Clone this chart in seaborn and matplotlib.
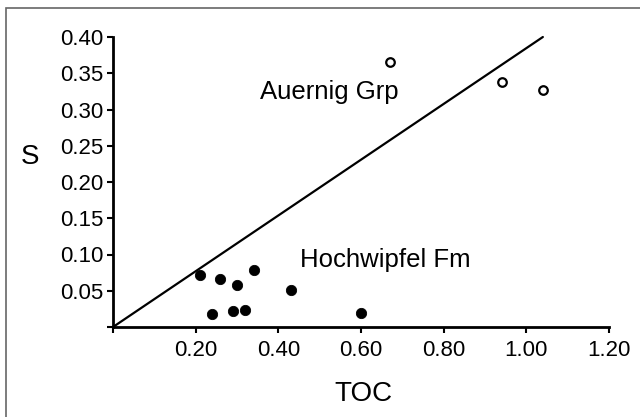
import pandas as pd
import seaborn as sns
import matplotlib.pyplot as plt
from matplotlib.patches import Rectangle

# data
hoch_toc = [0.21, 0.26, 0.30, 0.34, 0.24, 0.29, 0.32, 0.43, 0.60]
hoch_s = [0.072, 0.066, 0.058, 0.078, 0.018, 0.022, 0.024, 0.051, 0.019]
auer_toc = [0.67, 0.94, 1.04]
auer_s = [0.366, 0.338, 0.327]
line_toc = [0.0, 1.04]
line_s = [0.0, 0.40]
xticks = [0.0, 0.2, 0.4, 0.6, 0.8, 1.0, 1.2]
yticks = [0.0, 0.05, 0.10, 0.15, 0.20, 0.25, 0.30, 0.35, 0.40]

df_h = pd.DataFrame({'TOC': hoch_toc, 'S': hoch_s})
df_a = pd.DataFrame({'TOC': auer_toc, 'S': auer_s})

sns.set_style('white')
plt.rcParams['font.family'] = ['Liberation Sans', 'DejaVu Sans']
plt.rcParams['text.color'] = 'black'
plt.rcParams['axes.labelcolor'] = 'black'

fig = plt.figure(figsize=(6.4, 4.17), dpi=100)
ax = fig.add_axes([113 / 640, 90 / 417, 496 / 640, 290 / 417])

sns.lineplot(x=line_toc, y=line_s, color='black', linewidth=1.6, ax=ax)
ax.lines[0].set_clip_on(False)
sns.scatterplot(data=df_h, x='TOC', y='S', color='black', s=55,
                edgecolor='black', ax=ax, zorder=3)
sns.scatterplot(data=df_a, x='TOC', y='S', facecolor='white', s=38,
                edgecolor='black', linewidth=1.6, ax=ax, zorder=3)

ax.set_xlim(0, 1.2)
ax.set_ylim(0, 0.40)
ax.set_xticks(xticks)
ax.set_yticks(yticks)
ax.set_xticklabels([''] + [f'{v:.2f}' for v in xticks[1:]])
ax.set_yticklabels([''] + [f'{v:.2f}' for v in yticks[1:]])
ax.tick_params(axis='both', direction='out', length=4, width=1.5,
               labelsize=16, color='black', labelcolor='black',
               bottom=True, left=True, pad=3)
ax.tick_params(axis='x', pad=5)

for side in ['top', 'right']:
    ax.spines[side].set_visible(False)
for side in ['left', 'bottom']:
    ax.spines[side].set_linewidth(2)
    ax.spines[side].set_color('black')

ax.set_xlabel('TOC', fontsize=20, va='center')
ax.xaxis.set_label_coords(0.505, -0.23)
ax.set_ylabel('S', fontsize=20, rotation=0, va='center', ha='center')
ax.yaxis.set_label_coords(-0.168, 0.585)

ax.text(0.356, 0.324, 'Auernig Grp', fontsize=18.5, va='center', ha='left')
ax.text(0.452, 0.092, 'Hochwipfel Fm', fontsize=18.5, va='center', ha='left')

# thin grey frame round the picture (right/bottom edges are cut off)
fig.patches.append(Rectangle((5.5 / 640, -0.2), 1.2, 1.2 - 7.5 / 417,
                             transform=fig.transFigure, fill=False,
                             edgecolor='#666666', linewidth=1.2))

plt.savefig('out.png', dpi=100)
